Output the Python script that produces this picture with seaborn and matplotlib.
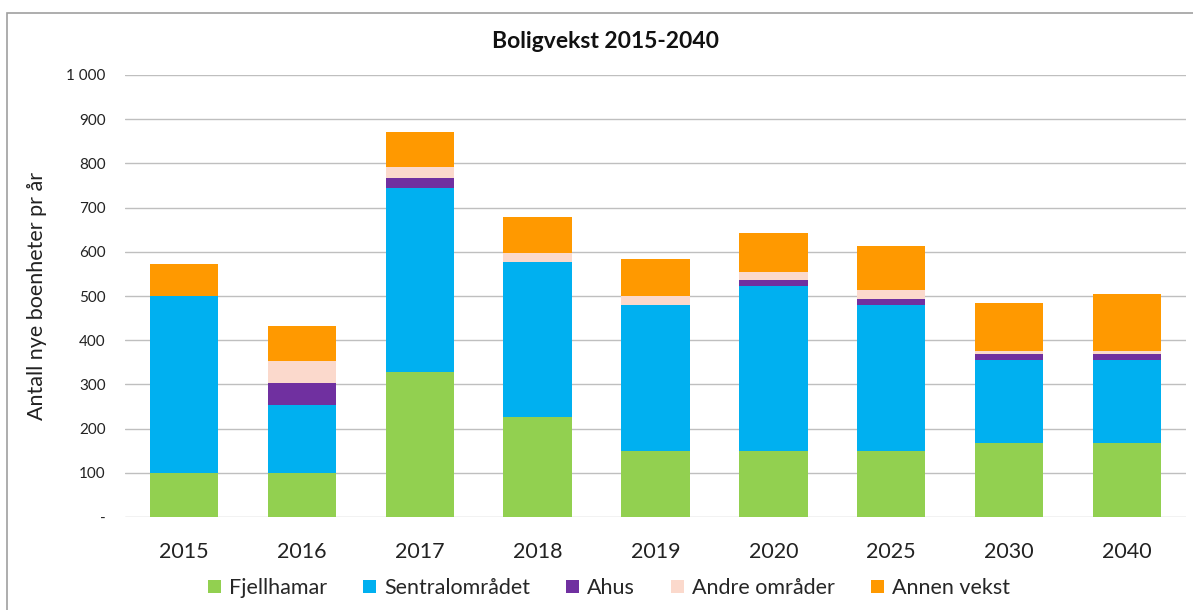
import matplotlib
matplotlib.use("Agg")
import matplotlib.pyplot as plt
import seaborn as sns
import numpy as np
import pandas as pd
from matplotlib.patches import Rectangle, Patch
from matplotlib.ticker import FuncFormatter

years = ["2015", "2016", "2017", "2018", "2019", "2020", "2025", "2030", "2040"]
fjellhamar = [100, 100, 328, 226, 150, 150, 150, 167, 167]
sentral = [400, 154, 417, 351, 329, 373, 329, 188, 188]
ahus = [0, 50, 22, 0, 0, 14, 15, 13, 13]
andre = [0, 50, 24, 21, 21, 18, 20, 7, 7]
annen = [73, 77, 80, 80, 83, 87, 100, 109, 129]

series_names = ["Fjellhamar", "Sentralområdet", "Ahus", "Andre områder", "Annen vekst"]
series_values = [fjellhamar, sentral, ahus, andre, annen]
colors = ["#92D050", "#00B0F0", "#7030A0", "#FBD9CC", "#FF9900"]

sns.set_theme(style="white")
plt.rcParams["font.family"] = ["Lato", "DejaVu Sans"]

fig = plt.figure(figsize=(11.93, 6.10), dpi=100)
W, H = 1193, 610
ax = fig.add_axes([125 / W, 1 - 517 / H, (1186 - 125) / W, (517 - 75) / H])

bottom = np.zeros(len(years))
for name, vals, col in zip(series_names, series_values, colors):
    df = pd.DataFrame({"year": years, "value": vals})
    sns.barplot(data=df, x="year", y="value", order=years, color=col,
                bottom=bottom.copy(), width=0.58, ax=ax, linewidth=0,
                saturation=1, errorbar=None)
    bottom += np.array(vals, dtype=float)

ax.set_ylim(0, 1000)
ax.set_xlim(-0.5, len(years) - 0.5)
ax.set_yticks(np.arange(0, 1001, 100))
ax.yaxis.set_major_formatter(FuncFormatter(
    lambda v, p: "-" if v == 0 else f"{int(v):,}".replace(",", " ")))
ax.grid(axis="y", color="#BFBFBF", linewidth=1)
ax.set_axisbelow(True)
for s in ax.spines.values():
    s.set_visible(False)
ax.tick_params(axis="y", labelsize=11, length=0, pad=14, colors="#222222")
ax.tick_params(axis="x", labelsize=15.5, length=0, pad=18, colors="#222222")
ax.set_xlabel("")
ax.set_ylabel("Antall nye boenheter pr år", fontsize=15.5, labelpad=14, color="#222222")

fig.text(605 / W, 1 - 42 / H, "Boligvekst 2015-2040", ha="center", va="center",
         fontsize=16.5, fontweight="bold", color="#111111")

handles = [Patch(facecolor=c, edgecolor="none") for c in colors]
fig.legend(handles, series_names, loc="center", bbox_to_anchor=(609 / W, 1 - 588 / H),
           ncol=5, frameon=False, fontsize=15.5, handlelength=0.6, handleheight=0.6,
           handletextpad=0.35, columnspacing=1.7)

fig.patches.append(Rectangle((7 / W, -0.05), 1.1, 1 - 13 / H + 0.05,
                             transform=fig.transFigure, fill=False,
                             edgecolor="#A0A0A0", linewidth=1.2))

fig.savefig("out.png", dpi=100)
